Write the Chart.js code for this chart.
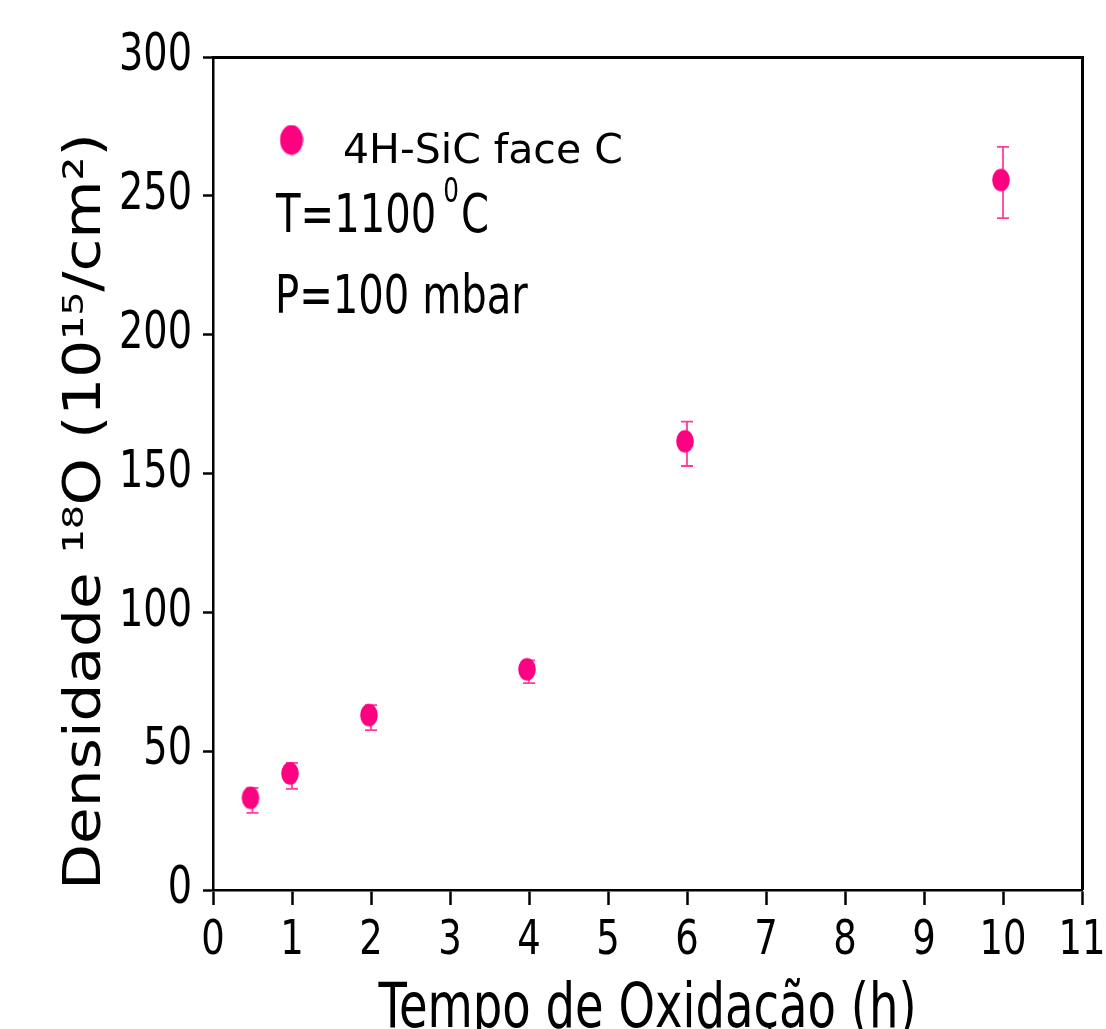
<!DOCTYPE html>
<html><head><meta charset="utf-8">
<script src="https://cdn.jsdelivr.net/npm/chart.js@4.4.1/dist/chart.umd.min.js"></script>
<style>html,body{margin:0;padding:0;background:#fff;overflow:hidden}#c{display:block}</style>
</head><body>
<canvas id="c" width="1106" height="1029"></canvas>
<script>
// ---- data ----
const times = [0.5, 1, 2, 4, 6, 10];
const density = [32.3, 41.1, 62.1, 78.6, 160.7, 254.8];
const errors = [4.5, 4.7, 4.5, 4.1, 8.0, 12.8];
const xTickValues = [0,1,2,3,4,5,6,7,8,9,10,11];
const yTickValues = [0,50,100,150,200,250,300];
const seriesLabel = '4H-SiC face C';
const noteTemp = ['T=1100', '0', 'C'];
const notePress = 'P=100 mbar';
const xTitle = 'Tempo de Oxidação (h)';
const yTitle = 'Densidade \u00B9\u2078O (10\u00B9\u2075/cm\u00B2)';

// text in the reference is horizontally condensed; a "condNN" tag in the family list
// tells the canvas to scale glyphs along the baseline by NN/100
const P = CanvasRenderingContext2D.prototype;
const origFill = P.fillText, origMeasure = P.measureText;
function factorOf(ctx) { const m = /cond(\d+)/.exec(ctx.font); return m ? +m[1] / 100 : 1; }
P.fillText = function (t, x, y, mw) {
  const f = factorOf(this);
  if (f === 1) return mw === undefined ? origFill.call(this, t, x, y) : origFill.call(this, t, x, y, mw);
  this.save();
  this.translate(x, y);
  this.scale(f, 1);
  if (mw === undefined) origFill.call(this, t, 0, 0); else origFill.call(this, t, 0, 0, mw / f);
  this.restore();
};
P.measureText = function (t) {
  const m = origMeasure.call(this, t);
  const f = factorOf(this);
  if (f === 1) return m;
  return {width: m.width * f, actualBoundingBoxLeft: m.actualBoundingBoxLeft * f,
    actualBoundingBoxRight: m.actualBoundingBoxRight * f,
    actualBoundingBoxAscent: m.actualBoundingBoxAscent, actualBoundingBoxDescent: m.actualBoundingBoxDescent};
};
const fam = n => "'DejaVu Sans', cond" + n;
const WIDE = "'DejaVu Sans', Verdana, sans-serif";
const PINK = '#FF0080';
const ERR = '#FF3D99';

function ellipseImg(w, h, rx, ry, cx, cy, color) {
  const c = document.createElement('canvas');
  c.width = w; c.height = h;
  const g = c.getContext('2d');
  g.fillStyle = color;
  g.beginPath();
  g.ellipse(cx, cy, rx, ry, 0, 0, Math.PI * 2);
  g.fill();
  return c;
}
// data marker (slightly up-left of the error-bar centre, as in the reference)
const marker = ellipseImg(30, 34, 8.8, 11.2, 13, 14.5, PINK);
const legendMarker = ellipseImg(24, 31, 11.5, 15, 12, 15.5, PINK);

const errorBars = {
  id: 'errorBars',
  beforeDatasetsDraw(chart) {
    const {ctx, scales: {x, y}} = chart;
    ctx.save();
    ctx.strokeStyle = ERR;
    ctx.lineWidth = 1.8;
    times.forEach((t, i) => {
      const px = x.getPixelForValue(t);
      const yt = y.getPixelForValue(density[i] + errors[i]);
      const yb = y.getPixelForValue(density[i] - errors[i]);
      ctx.beginPath();
      ctx.moveTo(px, yt); ctx.lineTo(px, yb);
      ctx.moveTo(px - 6, yt); ctx.lineTo(px + 6, yt);
      ctx.moveTo(px - 6, yb); ctx.lineTo(px + 6, yb);
      ctx.stroke();
    });
    ctx.restore();
  }
};

const frameAndNotes = {
  id: 'frameAndNotes',
  afterDraw(chart) {
    const {ctx, chartArea: a} = chart;
    ctx.save();
    ctx.strokeStyle = '#000';
    ctx.lineWidth = 3;
    ctx.beginPath();
    ctx.moveTo(a.left - 1, a.top + 0.5);
    ctx.lineTo(a.right + 0.5, a.top + 0.5);
    ctx.lineTo(a.right + 0.5, a.bottom);
    ctx.stroke();
    // legend
    ctx.drawImage(legendMarker, a.left + 78.5 - legendMarker.width / 2, a.top + 83 - legendMarker.height / 2);
    ctx.fillStyle = '#000';
    ctx.textBaseline = 'alphabetic';
    ctx.textAlign = 'left';
    ctx.font = '41px ' + WIDE;
    ctx.fillText(seriesLabel, a.left + 130, a.top + 106);
    // notes
    ctx.font = '53.5px ' + fam(75);
    let x0 = a.left + 63;
    ctx.fillText(noteTemp[0], x0, a.top + 175);
    x0 += ctx.measureText(noteTemp[0]).width + 7;
    ctx.font = '33px ' + fam(75);
    ctx.fillText(noteTemp[1], x0, a.top + 145);
    x0 += ctx.measureText(noteTemp[1]).width + 2;
    ctx.font = '53.5px ' + fam(75);
    ctx.fillText(noteTemp[2], x0, a.top + 175);
    ctx.fillText(notePress, a.left + 62, a.top + 256);
    ctx.restore();
  }
};

new Chart(document.getElementById('c'), {
  type: 'scatter',
  data: {
    datasets: [{
      label: seriesLabel,
      data: times.map((t, i) => ({x: t, y: density[i]})),
      pointStyle: marker,
      backgroundColor: PINK,
      borderColor: PINK,
      pointRadius: 10
    }]
  },
  options: {
    responsive: false,
    animation: false,
    events: [],
    layout: {padding: {top: 57, right: 24, left: 0, bottom: 0}},
    plugins: {legend: {display: false}, tooltip: {enabled: false}, title: {display: false}},
    scales: {
      x: {
        type: 'linear', min: 0, max: 11,
        afterBuildTicks: s => { s.ticks = xTickValues.map(v => ({value: v})); },
        afterFit: s => { s.height = 139; s.paddingLeft = 0; s.paddingRight = 0; },
        ticks: {color: '#000', font: {family: fam(77), size: 48}, padding: 8, autoSkip: false, maxRotation: 0},
        grid: {drawOnChartArea: false, drawTicks: true, tickLength: 15, tickWidth: 2.5, tickColor: '#000'},
        border: {color: '#000', width: 2.5},
        title: {display: true, text: xTitle, color: '#000', font: {family: fam(75), size: 62}, padding: {top: 0, bottom: -19}}
      },
      y: {
        type: 'linear', min: 0, max: 300,
        afterBuildTicks: s => { s.ticks = yTickValues.map(v => ({value: v})); },
        afterFit: s => { s.width = 213; s.paddingTop = 0; s.paddingBottom = 0; },
        ticks: {color: '#000', font: {family: fam(75), size: 51}, padding: 11},
        grid: {drawOnChartArea: false, drawTicks: true, tickLength: 10, tickWidth: 2.5, tickColor: '#000'},
        border: {color: '#000', width: 2.5},
        title: {display: true, text: yTitle, align: 'start', color: '#000', font: {family: fam(115), size: 52}, padding: {top: 55, bottom: 0}}
      }
    }
  },
  plugins: [errorBars, frameAndNotes]
});
</script>
</body></html>
